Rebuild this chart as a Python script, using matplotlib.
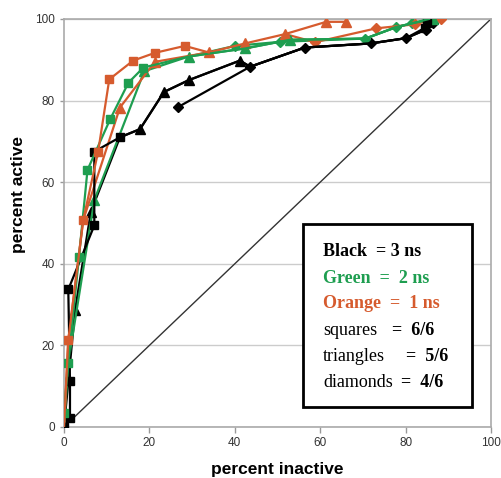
"""
ROC-style plot: percent active vs percent inactive for 1, 2 and 3 ns runs.
"""

import matplotlib
matplotlib.use("Agg")
import matplotlib.pyplot as plt
from matplotlib.patches import Rectangle


# ---------------------------------------------------------------------------
# Datos. *_MK = indices con marcador visible
# ---------------------------------------------------------------------------

BLACK_SQ_X = [0, 1.4, 1.4, 1.0, 7.1, 7.1, 13.1, 17.8, 23.4, 29.2, 41.2, 43.6, 56.4, 71.8, 80.1, 84.5, 85.0]
BLACK_SQ_Y = [0, 2.2, 11.3, 33.7, 49.4, 67.5, 71.0, 73.0, 82.1, 85.0, 89.8, 88.3, 93.0, 94.0, 95.3, 97.8, 99.0]
BLACK_SQ_MK = [0, 1, 2, 3, 4, 5, 6, 15, 16]

BLACK_TRI_X = [0, 2.6, 6.3, 13.1, 17.8, 23.4, 29.2, 41.2, 43.6, 56.4, 71.8, 80.1, 84.8, 86.0]
BLACK_TRI_Y = [0, 28.7, 52.8, 71.0, 73.0, 82.1, 85.0, 89.8, 88.3, 93.0, 94.0, 95.3, 97.4, 99.0]
BLACK_TRI_MK = [1, 2, 4, 5, 6, 7]

BLACK_DIA_X = [26.7, 43.6, 56.4, 71.8, 80.1, 84.8, 86.5]
BLACK_DIA_Y = [78.4, 88.3, 93.0, 94.0, 95.3, 97.4, 99.0]

GREEN_SQ_X = [0, 0, 1.0, 3.5, 5.5, 10.8, 15.1, 18.6, 29.2, 42.6, 52.9, 70.6, 77.8, 81.4, 85.5]
GREEN_SQ_Y = [0, 3.4, 15.8, 41.6, 63.0, 75.4, 84.4, 88.1, 90.8, 92.8, 94.9, 95.2, 98.0, 98.9, 100]
GREEN_SQ_MK = [1, 2, 3, 4, 5, 6, 7]

GREEN_TRI_X = [0, 1.0, 7.1, 18.8, 29.2, 42.4, 52.9, 70.6, 77.8, 81.4, 86.5]
GREEN_TRI_Y = [0, 15.8, 55.6, 87.2, 90.8, 92.8, 94.9, 95.2, 98.0, 98.9, 100]
GREEN_TRI_MK = [2, 3, 4, 5, 6, 10]

GREEN_DIA_X = [29.2, 40.0, 50.6, 70.6, 77.8, 81.4, 86.0]
GREEN_DIA_Y = [90.8, 93.4, 94.4, 95.2, 98.0, 98.9, 100]
GREEN_DIA_MK = [1, 2, 3, 4, 5, 6]

ORANGE_SQ_X = [0, 1.0, 4.5, 8.0, 10.6, 16.2, 21.3, 28.3, 33.9]
ORANGE_SQ_Y = [0, 21.3, 50.7, 67.5, 85.2, 89.8, 91.7, 93.4, 91.8]
ORANGE_SQ_MK = [1, 2, 3, 4, 5, 6, 7]

ORANGE_TRI_X = [0, 1.0, 4.5, 13.1, 21.3, 33.9, 42.4, 51.8, 61.4, 66.0]
ORANGE_TRI_Y = [0, 21.3, 50.7, 78.3, 89.5, 91.8, 94.0, 96.3, 99.3, 99.3]
ORANGE_TRI_MK = [3, 4, 5, 6, 7, 8, 9]

ORANGE_DIA_X = [51.8, 58.8, 73.1, 82.3, 86.1, 88.4]
ORANGE_DIA_Y = [96.3, 94.3, 97.7, 98.7, 99.9, 99.9]
ORANGE_DIA_MK = [1, 2, 3, 4, 5]

TICKS = [0, 20, 40, 60, 80, 100]

BLACK = "#000000"
GREEN = "#1e9e50"
ORANGE = "#d65b2e"


# ---------------------------------------------------------------------------
# Figura
# ---------------------------------------------------------------------------

plt.rcParams["font.family"] = ["Liberation Sans", "DejaVu Sans"]

fig = plt.figure(figsize=(5.02, 4.78), dpi=100)
ax = fig.add_axes([0.1275, 0.1067, 0.8505, 0.8536])

ax.set_xlim(0, 100)
ax.set_ylim(0, 100)

# diagonal de referencia
ax.plot([0, 100], [0, 100], color="#333333", lw=1.0, zorder=2)


def serie(x, y, color, marker, ms, mk=None):
    ax.plot(x, y, color=color, lw=1.6, marker=marker, ms=ms,
            markevery=mk, mec=color, mfc=color, zorder=3)


serie(BLACK_DIA_X, BLACK_DIA_Y, BLACK, "D", 5.0)
serie(GREEN_DIA_X, GREEN_DIA_Y, GREEN, "D", 5.0, GREEN_DIA_MK)
serie(ORANGE_DIA_X, ORANGE_DIA_Y, ORANGE, "D", 5.5, ORANGE_DIA_MK)
serie(BLACK_TRI_X, BLACK_TRI_Y, BLACK, "^", 6.5, BLACK_TRI_MK)
serie(GREEN_TRI_X, GREEN_TRI_Y, GREEN, "^", 6.5, GREEN_TRI_MK)
serie(ORANGE_TRI_X, ORANGE_TRI_Y, ORANGE, "^", 7.0, ORANGE_TRI_MK)
serie(BLACK_SQ_X, BLACK_SQ_Y, BLACK, "s", 6.0, BLACK_SQ_MK)
serie(GREEN_SQ_X, GREEN_SQ_Y, GREEN, "s", 6.0, GREEN_SQ_MK)
serie(ORANGE_SQ_X, ORANGE_SQ_Y, ORANGE, "s", 6.0, ORANGE_SQ_MK)

# ejes y rejilla
ax.set_xticks(TICKS)
ax.set_yticks(TICKS)
ax.tick_params(axis="both", labelsize=8.5, colors="#333333", length=4,
               color="#999999", width=1.0)
ax.tick_params(axis="y", length=3)
for s in ax.spines.values():
    s.set_color("#aaaaaa")
    s.set_linewidth(1.2)
ax.grid(axis="y", color="#cccccc", lw=1.0, zorder=0)
ax.set_axisbelow(True)

ax.set_xlabel("percent inactive", fontsize=12.5, fontweight="bold", labelpad=9)
ax.set_ylabel("percent active", fontsize=12.5, fontweight="bold")
ax.yaxis.set_label_coords(-0.088, 0.57)

# cuadro de leyenda (texto en serif)
ax.add_patch(Rectangle((56.0, 4.9), 39.6, 44.9, facecolor="white",
                       edgecolor="black", lw=2.0, zorder=5, clip_on=False))

serif = ["Liberation Serif", "DejaVu Serif"]
fs = 13
x0 = 60.7
ys = [43.0, 36.5, 30.2, 23.7, 17.4, 10.8]
ax.text(x0, ys[0], "Black  = 3 ns", family=serif, fontsize=fs, fontweight="bold",
        color=BLACK, va="center", zorder=6)
ax.text(x0, ys[1], "Green  =  2 ns", family=serif, fontsize=fs, fontweight="bold",
        color=GREEN, va="center", zorder=6)
ax.text(x0, ys[2], "Orange  =  1 ns", family=serif, fontsize=fs, fontweight="bold",
        color=ORANGE, va="center", zorder=6)

filas = [("squares", "=  6/6", 76.8), ("triangles", "=  5/6", 80.0),
         ("diamonds", "=  4/6", 79.0)]
for (nombre, valor, xe), yy in zip(filas, ys[3:]):
    ax.text(x0, yy, nombre, family=serif, fontsize=fs, color=BLACK,
            va="center", zorder=6)
    ax.text(xe, yy, valor, family=serif, fontsize=fs, fontweight="bold",
            color=BLACK, va="center", zorder=6)

fig.savefig("out.png", dpi=100)
